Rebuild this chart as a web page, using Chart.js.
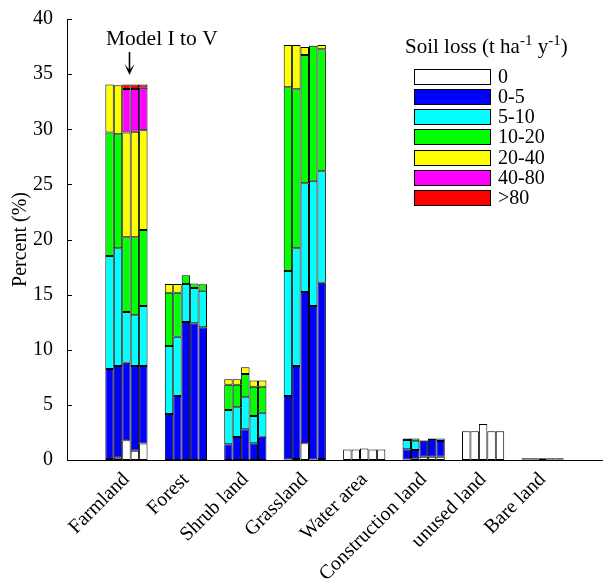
<!DOCTYPE html>
<html><head><meta charset="utf-8">
<script src="https://cdn.jsdelivr.net/npm/chart.js@4/dist/chart.umd.min.js"></script>
<style>html,body{margin:0;padding:0;background:#fff;}#wrap{width:603px;height:588px;position:relative;}</style>
</head><body><div id="wrap"><canvas id="c" width="603" height="588"></canvas></div>
<script>
const categories = ['Farmland','Forest','Shrub land','Grassland','Water area','Construction land','unused land','Bare land'];
const models = ['I','II','III','IV','V'];
const lossClasses = ['0','0-5','5-10','10-20','20-40','40-80','>80'];
const classColors = ['#FFFFFF','#0000FF','#00FFFF','#00FF00','#FFFF00','#FF00FF','#FF0000'];
const yTicks = [0,5,10,15,20,25,30,35,40];
const yTitle = 'Percent (%)';
const annotationText = 'Model I to V';
const legendTitleParts = [['Soil loss (t ha',false],['-1',true],[' y',false],['-1',true],[')',false]];

// percent of area; one row per model (I..V), columns follow lossClasses
const farmland = [
  [0.10, 8.15, 10.25, 11.20, 4.35, 0, 0],
  [0.20, 8.33, 10.67, 10.35, 4.45, 0, 0],
  [1.80, 7.03, 4.59, 6.78, 9.50, 3.95, 0.42],
  [0.85, 7.68, 4.59, 7.08, 9.58, 3.87, 0.42],
  [1.50, 7.03, 5.44, 6.89, 9.04, 3.87, 0.30]
];
const forest = [
  [0, 4.17, 6.17, 4.84, 0.78, 0, 0],
  [0, 5.80, 5.38, 4.00, 0.78, 0, 0],
  [0, 12.52, 3.44, 0.79, 0, 0, 0],
  [0, 12.40, 3.20, 0.42, 0, 0, 0],
  [0, 12.04, 3.32, 0.57, 0, 0, 0]
];
const shrubLand = [
  [0, 1.42, 3.12, 2.29, 0.49, 0, 0],
  [0, 2.09, 2.69, 2.05, 0.49, 0, 0],
  [0, 2.78, 2.91, 2.11, 0.61, 0, 0],
  [0, 1.51, 2.48, 2.66, 0.55, 0, 0],
  [0, 2.12, 2.17, 2.36, 0.55, 0, 0]
];
const grassland = [
  [0.05, 5.75, 11.34, 16.66, 3.84, 0, 0],
  [0.10, 8.43, 10.67, 14.42, 4.02, 0, 0],
  [1.51, 13.73, 9.86, 11.63, 0.73, 0, 0],
  [0.05, 13.92, 11.37, 12.24, 0, 0, 0],
  [0.10, 15.98, 10.10, 11.07, 0.39, 0, 0]
];
const waterArea = [
  [0.95, 0, 0, 0, 0, 0, 0],
  [0.95, 0, 0, 0, 0, 0, 0],
  [1.05, 0, 0, 0, 0, 0, 0],
  [0.95, 0, 0, 0, 0, 0, 0],
  [0.95, 0, 0, 0, 0, 0, 0]
];
const constructionLand = [
  [0.05, 0.92, 0.84, 0.15, 0, 0, 0],
  [0.15, 0.75, 0.79, 0.27, 0, 0, 0],
  [0.30, 1.45, 0.05, 0.02, 0, 0, 0],
  [0.30, 1.60, 0.06, 0, 0, 0, 0],
  [0.30, 1.42, 0.24, 0, 0, 0, 0]
];
const unusedLand = [
  [2.60, 0, 0, 0, 0, 0, 0],
  [2.60, 0, 0, 0, 0, 0, 0],
  [3.27, 0, 0, 0, 0, 0, 0],
  [2.60, 0, 0, 0, 0, 0, 0],
  [2.60, 0, 0, 0, 0, 0, 0]
];
const bareLand = [
  [0.05, 0.05, 0, 0.05, 0, 0, 0],
  [0.05, 0, 0.05, 0.05, 0, 0, 0],
  [0.10, 0, 0, 0, 0, 0.05, 0],
  [0.05, 0, 0, 0.05, 0, 0.05, 0],
  [0.05, 0.05, 0, 0.05, 0, 0, 0]
];
const tables = [farmland, forest, shrubLand, grassland, waterArea, constructionLand, unusedLand, bareLand];

const FONT = 'Liberation Serif, Times New Roman, serif';
const labels = [''].concat(categories, ['']);
const datasets = [];
models.forEach((m, mi) => {
  lossClasses.forEach((cl, ci) => {
    const vals = tables.map(t => t[mi][ci] > 0 ? t[mi][ci] : null);
    datasets.push({
      label: cl + ' (Model ' + m + ')',
      stack: 'M' + m,
      data: [null].concat(vals, [null]),
      backgroundColor: classColors[ci],
      borderColor: '#000',
      borderWidth: 1,
      borderSkipped: false,
      categoryPercentage: 0.71,
      barPercentage: 1.0
    });
  });
});

const overlay = {
  id: 'overlay',
  afterDraw(chart) {
    const ctx = chart.ctx, xs = chart.scales.x, ys = chart.scales.y;
    ctx.save();
    ctx.strokeStyle = '#000'; ctx.lineWidth = 1;
    // inward y tick marks
    yTicks.forEach(v => {
      const y = Math.round(ys.getPixelForValue(v)) + 0.5;
      ctx.beginPath(); ctx.moveTo(xs.left, y); ctx.lineTo(xs.left + 5, y); ctx.stroke();
    });
    // annotation "Model I to V" with arrow
    ctx.fillStyle = '#000';
    ctx.font = '21.5px ' + FONT;
    ctx.textBaseline = 'alphabetic'; ctx.textAlign = 'left';
    ctx.fillText(annotationText, 106, 45);
    const ax = Math.round(xs.getPixelForValue(1)) + 3.5;
    const ay0 = 52, ay1 = 75;
    ctx.lineWidth = 1.6;
    ctx.beginPath(); ctx.moveTo(ax, ay0); ctx.lineTo(ax, ay1 - 3); ctx.stroke();
    ctx.beginPath(); ctx.moveTo(ax - 5, ay1 - 11); ctx.lineTo(ax, ay1); ctx.lineTo(ax + 5, ay1 - 11);
    ctx.lineTo(ax, ay1 - 5); ctx.closePath(); ctx.fill();
    ctx.lineWidth = 1;
    // legend title with superscripts
    let tx = 405;
    legendTitleParts.forEach(([txt, sup]) => {
      ctx.font = (sup ? '15px ' : '21px ') + FONT;
      ctx.fillText(txt, tx, sup ? 45 : 53);
      tx += ctx.measureText(txt).width;
    });
    // legend entries
    ctx.font = '20px ' + FONT;
    ctx.textBaseline = 'middle';
    lossClasses.forEach((cl, i) => {
      const y = 68.5 + i * 20.3;
      ctx.fillStyle = classColors[i];
      ctx.fillRect(414, Math.round(y), 76, 15);
      ctx.strokeRect(414.5, Math.round(y) + 0.5, 76, 15);
      ctx.fillStyle = '#000';
      ctx.fillText(cl, 498, Math.round(y) + 8.5);
    });
    ctx.restore();
  }
};

new Chart(document.getElementById('c'), {
  type: 'bar',
  data: { labels: labels, datasets: datasets },
  options: {
    responsive: false,
    animation: false,
    devicePixelRatio: 1,
    layout: { padding: { top: 19, right: 1, left: 0, bottom: 0 } },
    plugins: { legend: { display: false }, tooltip: { enabled: false } },
    scales: {
      x: {
        type: 'category', stacked: true, offset: false,
        grid: { display: false },
        border: { display: true, color: '#000', width: 1 },
        ticks: { autoSkip: false, maxRotation: 45, minRotation: 45, color: '#000', padding: 0,
                 font: { family: FONT, size: 20 } },
        afterFit(s) { s.height = 128; s.paddingLeft = 0; s.paddingRight = 0; }
      },
      y: {
        stacked: true, min: 0, max: 40,
        grid: { display: false },
        border: { display: true, color: '#000', width: 1 },
        ticks: { stepSize: 5, color: '#000', padding: 6, font: { family: FONT, size: 20 } },
        title: { display: true, text: yTitle, color: '#000', padding: { top: 9, bottom: 0 },
                 font: { family: FONT, size: 20 } },
        afterFit(s) { s.width = 67; }
      }
    }
  },
  plugins: [overlay]
});
</script></body></html>
